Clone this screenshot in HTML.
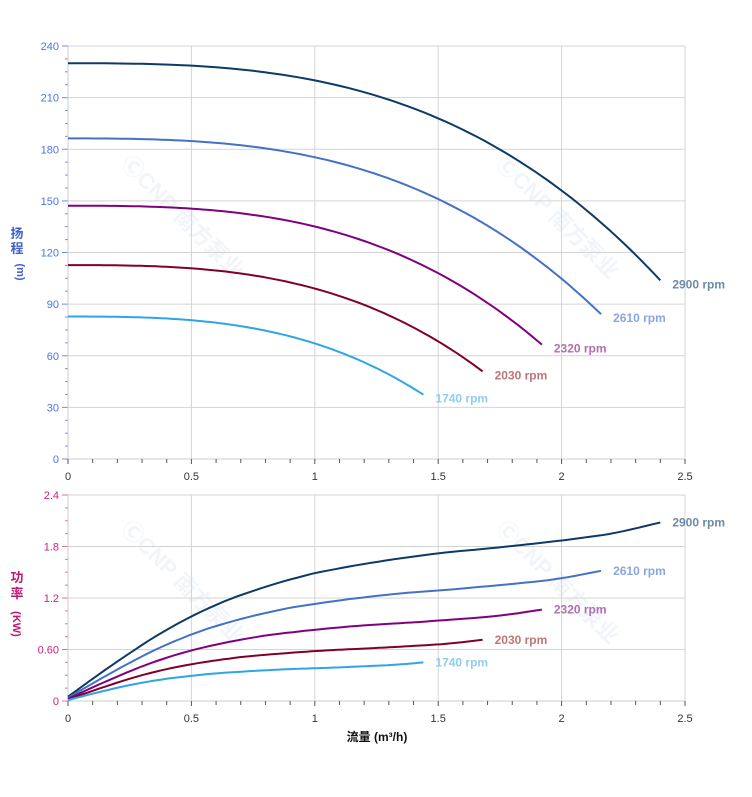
<!DOCTYPE html>
<html><head><meta charset="utf-8"><style>
body{margin:0;background:#fff;}
svg{display:block;font-family:"Liberation Sans","Noto Sans CJK SC",sans-serif;}
</style></head><body>
<svg id="s" width="752" height="797" xmlns="http://www.w3.org/2000/svg">
<g opacity="0.08" fill="#4a7fc0" font-weight="bold" font-size="22">
<text transform="translate(120,165) rotate(45)">ⒸCNP 南方泵业</text>
<text transform="translate(495,165) rotate(45)">ⒸCNP 南方泵业</text>
<text transform="translate(120,530) rotate(45)">ⒸCNP 南方泵业</text>
<text transform="translate(495,530) rotate(45)">ⒸCNP 南方泵业</text>
</g>
<g id="g"></g>
</svg>
<script>
const NS="http://www.w3.org/2000/svg",g=document.getElementById('g');
function el(t,a,txt){const e=document.createElementNS(NS,t);for(const k in a)e.setAttribute(k,a[k]);if(txt!==undefined)e.textContent=txt;g.appendChild(e);return e;}
const X=q=>68+q*246.8;
const YT=h=>459-h*413/240, YB=p=>701-p*206/2.4;
for(let i=0;i<=5;i++){const x=X(i*0.5);el('line',{x1:x,y1:46,x2:x,y2:459,stroke:'#d4d4d4'});el('line',{x1:x,y1:495,x2:x,y2:701,stroke:'#d4d4d4'});}
for(let v=0;v<=240;v+=30){const y=YT(v);el('line',{x1:68,y1:y,x2:685,y2:y,stroke:'#d4d4d4'});el('line',{x1:62,y1:y,x2:68,y2:y,stroke:'#6d8de8'});
el('text',{x:59,y:y+4,'text-anchor':'end','font-size':11,fill:'#4f74e0'},v);
for(let k=1;k<4&&v<240;k++){const yy=YT(v+k*7.5);el('line',{x1:65,y1:yy,x2:68,y2:yy,stroke:'#6d8de8'});}}
const pl=['0','0.60','1.2','1.8','2.4'];
for(let i=0;i<=4;i++){const v=i*0.6,y=YB(v);el('line',{x1:68,y1:y,x2:685,y2:y,stroke:'#d4d4d4'});el('line',{x1:62,y1:y,x2:68,y2:y,stroke:'#e070a0'});
el('text',{x:59,y:y+4,'text-anchor':'end','font-size':11,fill:'#d0207a'},pl[i]);
for(let k=1;k<4&&i<4;k++){const yy=YB(v+k*0.15);el('line',{x1:65,y1:yy,x2:68,y2:yy,stroke:'#e070a0'});}}
el('line',{x1:68,y1:46,x2:68,y2:459,stroke:'#ccc'});el('line',{x1:68,y1:495,x2:68,y2:701,stroke:'#ccc'});
el('line',{x1:68,y1:459,x2:685,y2:459,stroke:'#ccc'});el('line',{x1:68,y1:701,x2:685,y2:701,stroke:'#ccc'});
const xl=['0','0.5','1','1.5','2','2.5'];
for(let i=0;i<=25;i++){const x=X(i*0.1),L=i%5==0?5:4;el('line',{x1:x,y1:459,x2:x,y2:459+L,stroke:'#555'});el('line',{x1:x,y1:701,x2:x,y2:701+L,stroke:'#555'});
if(i%5==0){el('text',{x:x,y:480,'text-anchor':'middle','font-size':11,fill:'#333'},xl[i/5]);el('text',{x:x,y:722,'text-anchor':'middle','font-size':11,fill:'#333'},xl[i/5]);}}
el('text',{x:17,y:238,'text-anchor':'middle','font-size':13,'font-weight':'bold',fill:'#4060d0'},'扬');
el('text',{x:17,y:253,'text-anchor':'middle','font-size':13,'font-weight':'bold',fill:'#4060d0'},'程');
el('text',{x:17,y:272,'text-anchor':'middle','font-size':11,'font-weight':'bold',fill:'#4060d0',transform:'rotate(90 17 272)'},'(m)');
el('text',{x:17,y:582,'text-anchor':'middle','font-size':13,'font-weight':'bold',fill:'#c01a70'},'功');
el('text',{x:17,y:598,'text-anchor':'middle','font-size':13,'font-weight':'bold',fill:'#c01a70'},'率');
el('text',{x:13,y:624,'text-anchor':'middle','font-size':11,'font-weight':'bold',fill:'#c01a70',transform:'rotate(90 13 624)'},'(KW)');
el('text',{x:377,y:741,'text-anchor':'middle','font-size':12,'font-weight':'bold',fill:'#111'},'流量 (m³/h)');
const H0=q=>230-1.5*q*q-8.5*q*q*q;
const PP=[[-0.2,-0.38],[0,0.05],[0.2,0.46],[0.4,0.83],[0.6,1.12],[0.8,1.33],[1,1.49],[1.25,1.62],[1.5,1.72],[1.75,1.79],[2,1.87],[2.2,1.95],[2.4,2.08],[2.6,2.22]];
function P0(q){for(let i=1;i<PP.length-2;i++){const[a,b]=PP[i],[c,d]=PP[i+1];if(q<=c+1e-9){const p0=PP[i-1][1],p3=PP[i+2][1],t=(q-a)/(c-a);
return 0.5*((2*b)+(-p0+d)*t+(2*p0-5*b+4*d-p3)*t*t+(-p0+3*b-3*d+p3)*t*t*t);}}return 2.08;}
const S=[[2900,'#0d3a66','#6f8aa5'],[2610,'#4472c4','#8aa6dc'],[2320,'#800080','#b070b0'],[2030,'#80002a','#c07575'],[1740,'#2fa4e7','#90cdf0']];
for(const[n,c,lc]of S){const r=n/2900,qe=2.4*r;let a='',b='';
for(let i=0;i<=80;i++){const q=qe*i/80,q0=q/r;a+=(i?'L':'M')+X(q).toFixed(1)+' '+YT(r*r*H0(q0)).toFixed(1);b+=(i?'L':'M')+X(q).toFixed(1)+' '+YB(r*r*r*P0(q0)).toFixed(1);}
el('path',{d:a,fill:'none',stroke:c,'stroke-width':2});el('path',{d:b,fill:'none',stroke:c,'stroke-width':2});
const xe=X(qe);el('text',{x:xe+12,y:YT(r*r*H0(2.4))+8,'font-size':12,'font-weight':'bold',fill:lc},n+' rpm');
el('text',{x:xe+12,y:YB(r*r*r*2.08)+4,'font-size':12,'font-weight':'bold',fill:lc},n+' rpm');}
</script>
</body></html>
